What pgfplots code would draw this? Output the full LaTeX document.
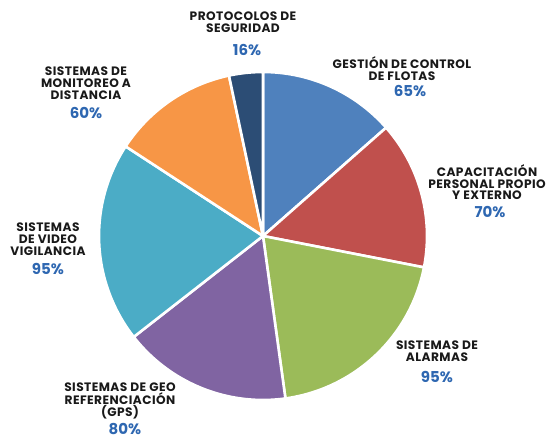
\documentclass[border=0pt]{standalone}
\usepackage{pgfplots}
\pgfplotsset{compat=1.18}
\usepackage{fontspec}
\setmainfont{Poppins}
\definecolor{c1}{HTML}{4F81BD}
\definecolor{c2}{HTML}{C0504D}
\definecolor{c3}{HTML}{9BBB59}
\definecolor{c4}{HTML}{8064A2}
\definecolor{c5}{HTML}{4BACC6}
\definecolor{c6}{HTML}{F79646}
\definecolor{c7}{HTML}{2C4D75}
\definecolor{pct}{HTML}{2E67B1}
\def\total{481}
% #1 cumulative value before slice, #2 value, #3 colour
\newcommand{\slice}[3]{%
  \pgfmathsetmacro\sa{90-(#1)/\total*360}%
  \pgfmathsetmacro\ea{90-(#1+#2)/\total*360}%
  \edef\doslice{\noexpand\addplot[fill=#3, draw=white, line width=2.6pt, line join=round,
     samples at={-1,0,1,...,60}]
     ({263+164*ifthenelse(x<0,0,1)*cos(\sa+(\ea-\sa)*x/60)},
      {198+164*ifthenelse(x<0,0,1)*sin(\sa+(\ea-\sa)*x/60)}) -- cycle;}%
  \doslice
}
\newcommand{\lab}[3]{% x, y(top, pixels from top), text
  \node[align=center, font=\bfseries\fontsize{12.2}{11.9}\selectfont\addfontfeatures{LetterSpace=3.5}, text=black!90, inner sep=0pt, anchor=north]
    at (axis cs:#1,{434-#2}) {#3};
}
\newcommand{\pc}[3]{%
  \node[font=\bfseries\fontsize{15}{15}\selectfont, text=pct, inner sep=0pt]
    at (axis cs:#1,{434-#2}) {#3\%};
}
\begin{document}
\begin{tikzpicture}
\begin{axis}[width=549pt, height=434pt, scale only axis,
  xmin=0, xmax=549, ymin=0, ymax=434, hide axis, clip=false]
\slice{0}{65}{c1}
\slice{65}{70}{c2}
\slice{135}{95}{c3}
\slice{230}{80}{c4}
\slice{310}{95}{c5}
\slice{405}{60}{c6}
\slice{465}{16}{c7}
\lab{243}{12}{PROTOCOLOS DE\\SEGURIDAD}
\pc{247}{50}{16}
\lab{402}{56}{GESTIÓN DE CONTROL\\DE FLOTAS}
\pc{410}{91}{65}
\lab{487}{164}{CAPACITACIÓN\\PERSONAL PROPIO\\Y EXTERNO}
\pc{490}{212}{70}
\lab{86}{67}{SISTEMAS DE\\MONITOREO A\\DISTANCIA}
\pc{86}{113}{60}
\lab{48}{223}{SISTEMAS\\DE VIDEO\\VIGILANCIA}
\pc{48}{269}{95}
\lab{120}{383}{SISTEMAS DE GEO\\REFERENCIACIÓN\\(GPS)}
\pc{125}{429}{80}
\lab{437}{341}{SISTEMAS DE\\ALARMAS}
\pc{437}{377}{95}
\end{axis}
\pgfresetboundingbox
\path (current axis.south west) rectangle (current axis.north east);
\end{tikzpicture}
\end{document}
